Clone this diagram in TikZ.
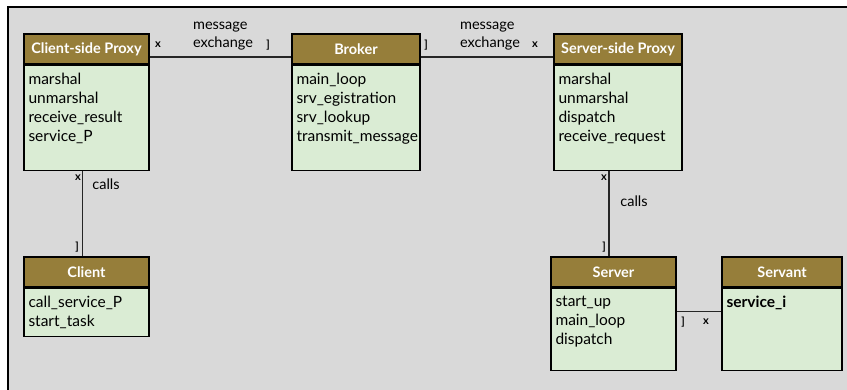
\documentclass[tikz,border=0pt]{standalone}
\usepackage{fontspec}
\setmainfont{Lato}
\usepackage{tikz}
\usetikzlibrary{positioning}

\definecolor{headbrown}{RGB}{150,126,58}
\definecolor{bodygreen}{RGB}{218,236,212}
\definecolor{paper}{RGB}{217,217,217}

\tikzset{
  head/.style={draw=black, line width=1.4pt, fill=headbrown, text=white,
    font=\bfseries\fontsize{14.5}{16}\selectfont, minimum height=30pt, inner sep=0pt},
  body/.style={draw=black, line width=1.4pt, fill=bodygreen, inner sep=0pt},
  ops/.style={anchor=north west, align=left, inner sep=0pt,
    font=\fontsize{15.5}{19}\selectfont},
  link/.style={line width=1.2pt, black!85},
  lbl/.style={inner sep=0pt, align=left, font=\fontsize{14.5}{18}\selectfont},
  multi/.style={inner sep=0pt, font=\bfseries\fontsize{11}{11}\selectfont}
}

\begin{document}
\begin{tikzpicture}[x=1pt,y=-1pt]
   \useasboundingbox (0,0) rectangle (847,390);
   \fill[paper] (8,7) rectangle (847,390);
   \draw[line width=2pt] (8,390) -- (8,7) -- (847,7);

   % class headers
   \node[head, minimum width=125pt] (cproxy) at (86.5,49) {Client-side Proxy};
   \node[head, minimum width=128pt] (broker) at (356,49) {Broker};
   \node[head, minimum width=128pt] (sproxy) at (618,49) {Server-side Proxy};
   \node[head, minimum width=125pt] (client) at (86.5,272) {Client};
   \node[head, minimum width=125pt] (server) at (613.5,272) {Server};
   \node[head, minimum width=120pt] (servant) at (782,272) {Servant};

   % class bodies
   \node[body, minimum width=125pt, minimum height=105pt, below=0pt of cproxy] (cproxy body) {};
   \node[body, minimum width=128pt, minimum height=105pt, below=0pt of broker] (broker body) {};
   \node[body, minimum width=128pt, minimum height=105pt, below=0pt of sproxy] (sproxy body) {};
   \node[body, minimum width=125pt, minimum height=48pt, below=0pt of client] (client body) {};
   \node[body, minimum width=125pt, minimum height=82pt, below=0pt of server] (server body) {};
   \node[body, minimum width=120pt, minimum height=82pt, below=0pt of servant] (servant body) {};

   % operations
   \node[ops] (cproxy ops) at ([xshift=5pt,yshift=-8pt]cproxy body.north west)
     {marshal\\unmarshal\\receive\_result\\service\_P};
   \node[ops] (broker ops) at ([xshift=5pt,yshift=-8pt]broker body.north west)
     {main\_loop\\srv\_egistration\\srv\_lookup\\transmit\_message};
   \node[ops] (sproxy ops) at ([xshift=5pt,yshift=-8pt]sproxy body.north west)
     {marshal\\unmarshal\\dispatch\\receive\_request};
   \node[ops] (client ops) at ([xshift=5pt,yshift=-8pt]client body.north west)
     {call\_service\_P\\start\_task};
   \node[ops] (server ops) at ([xshift=5pt,yshift=-8pt]server body.north west)
     {start\_up\\main\_loop\\dispatch};
   \node[ops, font=\bfseries\fontsize{15.5}{19}\selectfont] (servant ops)
     at ([xshift=5pt,yshift=-8pt]servant body.north west) {service\_i};

   % associations
   \draw[link] ([yshift=-8pt]cproxy.east) -- ([yshift=-8pt]broker.west);
   \draw[link] ([yshift=-8pt]broker.east) -- ([yshift=-8pt]sproxy.west);
   \draw[link] ([xshift=-4pt]client.north) -- ([xshift=-4pt]client.north |- cproxy body.south);
   \draw[link] ([xshift=-4.5pt]server.north) -- ([xshift=-4.5pt]server.north |- sproxy body.south);
   \draw[link] ([yshift=-24pt]server body.north east) -- ([yshift=-24pt]servant body.north west);

   % labels and multiplicities
   \node[multi] (m1) at (158,45) {x};
   \node[lbl] (msg1) at (223,36) {message\\exchange};
   \node[multi] (m2) at (268,45) {]};
   \node[multi] (m3) at (426,45) {]};
   \node[lbl] (msg2) at (490,36) {message\\exchange};
   \node[multi] (m4) at (535,45) {x};
   \node[multi] (m5) at (78,178) {x};
   \node[lbl] (calls1) at (106,184) {calls};
   \node[multi] (m6) at (77,247) {]};
   \node[multi] (m7) at (604,178) {x};
   \node[lbl] (calls2) at (634,201) {calls};
   \node[multi] (m8) at (604,247) {]};
   \node[multi] (m9) at (683,322) {]};
   \node[multi] (m10) at (706,322) {x};
\end{tikzpicture}
\end{document}
